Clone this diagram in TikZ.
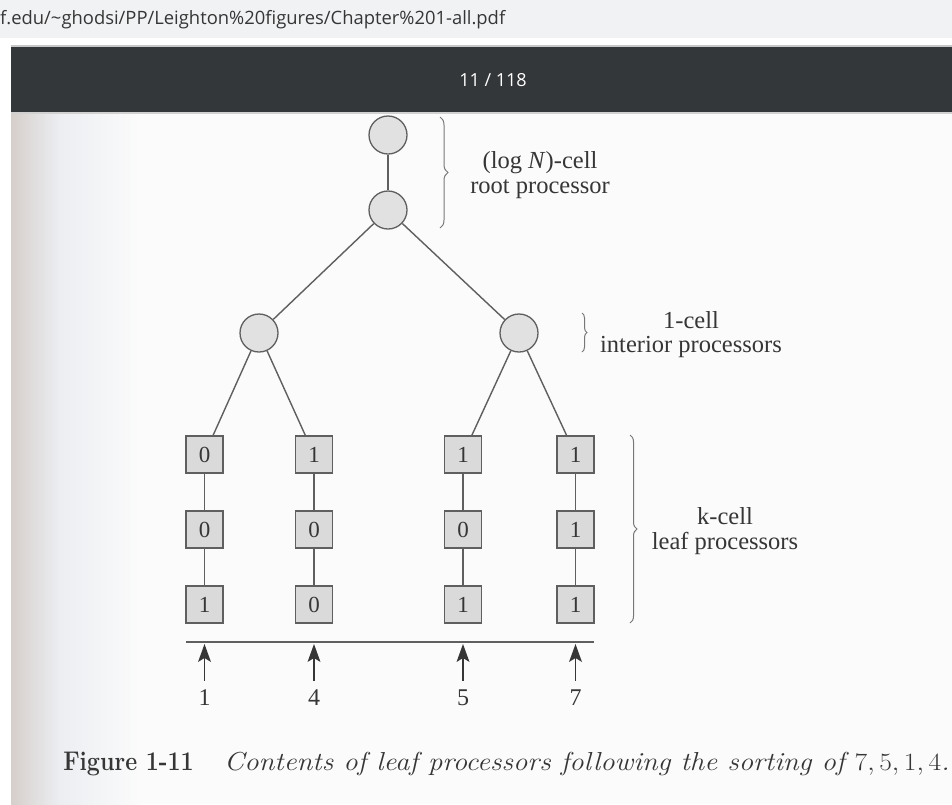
\documentclass[tikz,border=0pt]{standalone}
\usepackage{fontspec}
\newfontfamily\labelfont{Liberation Serif}
\newfontfamily\uifont{Open Sans}
\usetikzlibrary{decorations.pathreplacing}
\definecolor{urlbar}{HTML}{F1F2F4}
\definecolor{toolbar}{HTML}{343739}
\definecolor{ink}{HTML}{363636}
\definecolor{wire}{HTML}{5F5F5F}
\definecolor{cellfill}{HTML}{DADADA}
\definecolor{gutter}{HTML}{D6CFCB}
\definecolor{paper}{HTML}{FBFBFB}
\definecolor{paperblue}{HTML}{ECEEF2}

\begin{document}
\begin{tikzpicture}[x=1pt,y=-1pt,
  proc/.style={circle,draw=wire,fill=cellfill!80,line width=1.3pt,minimum size=38pt,inner sep=0pt},
  leafcell/.style={rectangle,draw=wire,fill=cellfill,line width=1.3pt,minimum size=37pt,inner sep=0pt,
    font=\labelfont\fontsize{23}{23}\selectfont,text=ink},
  link/.style={draw=wire,line width=1.4pt},
  bracket/.style={draw=wire!85,line width=1pt,decorate,decoration={brace,amplitude=#1}},
  lbl/.style={font=\labelfont\fontsize{24.5}{24.5}\selectfont,text=ink,align=center},
  inval/.style={font=\labelfont\fontsize{24}{24}\selectfont,text=ink,inner sep=0pt},
  feed/.style={draw=ink,line width=1.2pt},
  feedtip/.style={fill=ink},
]
\useasboundingbox (0,0) rectangle (952,804);

% ---- browser chrome ----
\fill[white] (0,0) rectangle (952,804);
\fill[urlbar] (0,0) rectangle (952,38);
\node[anchor=west,inner sep=0pt,text=ink,font=\uifont\fontsize{18.4}{18.4}\selectfont] (url) at (0,20)
  {f.edu/\char`\~ghodsi/PP/Leighton\%20figures/Chapter\%201-all.pdf};
\fill[black!22] (11,45) rectangle (952,47);
\fill[toolbar] (11,47) rectangle (952,112);
\node[text=white,font=\uifont\fontsize{18}{18}\selectfont] (pageno) at (493,80) {11 / 118};

% ---- scanned page ----
\fill[paper] (11,112) rectangle (952,804);
\shade[left color=gutter,right color=paperblue] (11,112) rectangle (60,804);
\shade[left color=paperblue,right color=paper] (60,112) rectangle (140,804);
\fill[black!18] (11,112) rectangle (952,114);

% root processor (two cells)
\node[proc] (r1) at (388,135) {};
\node[proc] (r2) at (388,210) {};
% interior processors
\node[proc] (iL) at (259,333) {};
\node[proc] (iR) at (519,333) {};

% leaf processors: columns a..d, rows 1..3
\node[leafcell] (a1) at (204.5,454.5) {0};
\node[leafcell] (a2) at (204.5,529.5) {0};
\node[leafcell] (a3) at (204.5,604.5) {1};
\node[leafcell] (b1) at (314,454.5) {1};
\node[leafcell] (b2) at (314,529.5) {0};
\node[leafcell] (b3) at (314,604.5) {0};
\node[leafcell] (c1) at (463,454.5) {1};
\node[leafcell] (c2) at (463,529.5) {0};
\node[leafcell] (c3) at (463,604.5) {1};
\node[leafcell] (d1) at (575.5,454.5) {1};
\node[leafcell] (d2) at (575.5,529.5) {1};
\node[leafcell] (d3) at (575.5,604.5) {1};

% tree links
\draw[link] (r1) -- (r2);
\draw[link] (r2) -- (iL);
\draw[link] (r2) -- (iR);
\draw[link] (iL) -- (a1);
\draw[link] (iL) -- (b1);
\draw[link] (iR) -- (c1);
\draw[link] (iR) -- (d1);
\draw[link] (a1) -- (a2) -- (a3);
\draw[link] (b1) -- (b2) -- (b3);
\draw[link] (c1) -- (c2) -- (c3);
\draw[link] (d1) -- (d2) -- (d3);

% input bus
\coordinate (busL) at (186,642);
\coordinate (busR) at (594,642);
\draw[draw=wire,line width=1.6pt] (busL) -- (busR);

% inputs and their feed arrows (stealth-shaped heads touching the bus)
\node[inval] (v1) at (204.5,698) {1};
\node[inval] (v4) at (314,698) {4};
\node[inval] (v5) at (463,698) {5};
\node[inval] (v7) at (575.5,698) {7};
\coordinate (p1) at (204.5,644);
\coordinate (p4) at (314,644);
\coordinate (p5) at (463,644);
\coordinate (p7) at (575.5,644);
\foreach \v/\p in {v1/p1,v4/p4,v5/p5,v7/p7}{
  \draw[feed,shorten <=9pt,shorten >=12pt] (\v.north) -- (\p);
  \fill[feedtip] (\p) -- ++(-6.5,18) -- ++(6.5,-4) -- ++(6.5,4) -- cycle;
}

% braces and their labels
\coordinate (rbT) at (440,117);
\coordinate (rbB) at (440,228);
\draw[bracket=8pt] (rbT) -- (rbB);
\node[lbl] (rootlbl) at (540,175) {(log \textit{N})-cell\\root processor};

\coordinate (ibT) at (582,313);
\coordinate (ibB) at (582,352);
\draw[bracket=5pt] (ibT) -- (ibB);
\node[lbl] (intlbl) at (691,334.5) {1-cell\\interior processors};

\coordinate (lbT) at (630,435);
\coordinate (lbB) at (630,623);
\draw[bracket=7pt] (lbT) -- (lbB);
\node[lbl] (leaflbl) at (725,531) {k-cell\\leaf processors};

% caption
\node[anchor=base east,inner sep=0pt,text=ink,font=\bfseries\fontsize{27}{28}\selectfont] (capnum) at (194,770)
  {\scalebox{0.86}[1]{Figure 1-11}};
\node[anchor=base west,inner sep=0pt,text=ink,font=\itshape\fontsize{26}{27}\selectfont] (captext) at (224,770)
  {\scalebox{1.104}[1]{Contents of leaf processors following the sorting of $7,5,1,4$.}};
\end{tikzpicture}
\end{document}
